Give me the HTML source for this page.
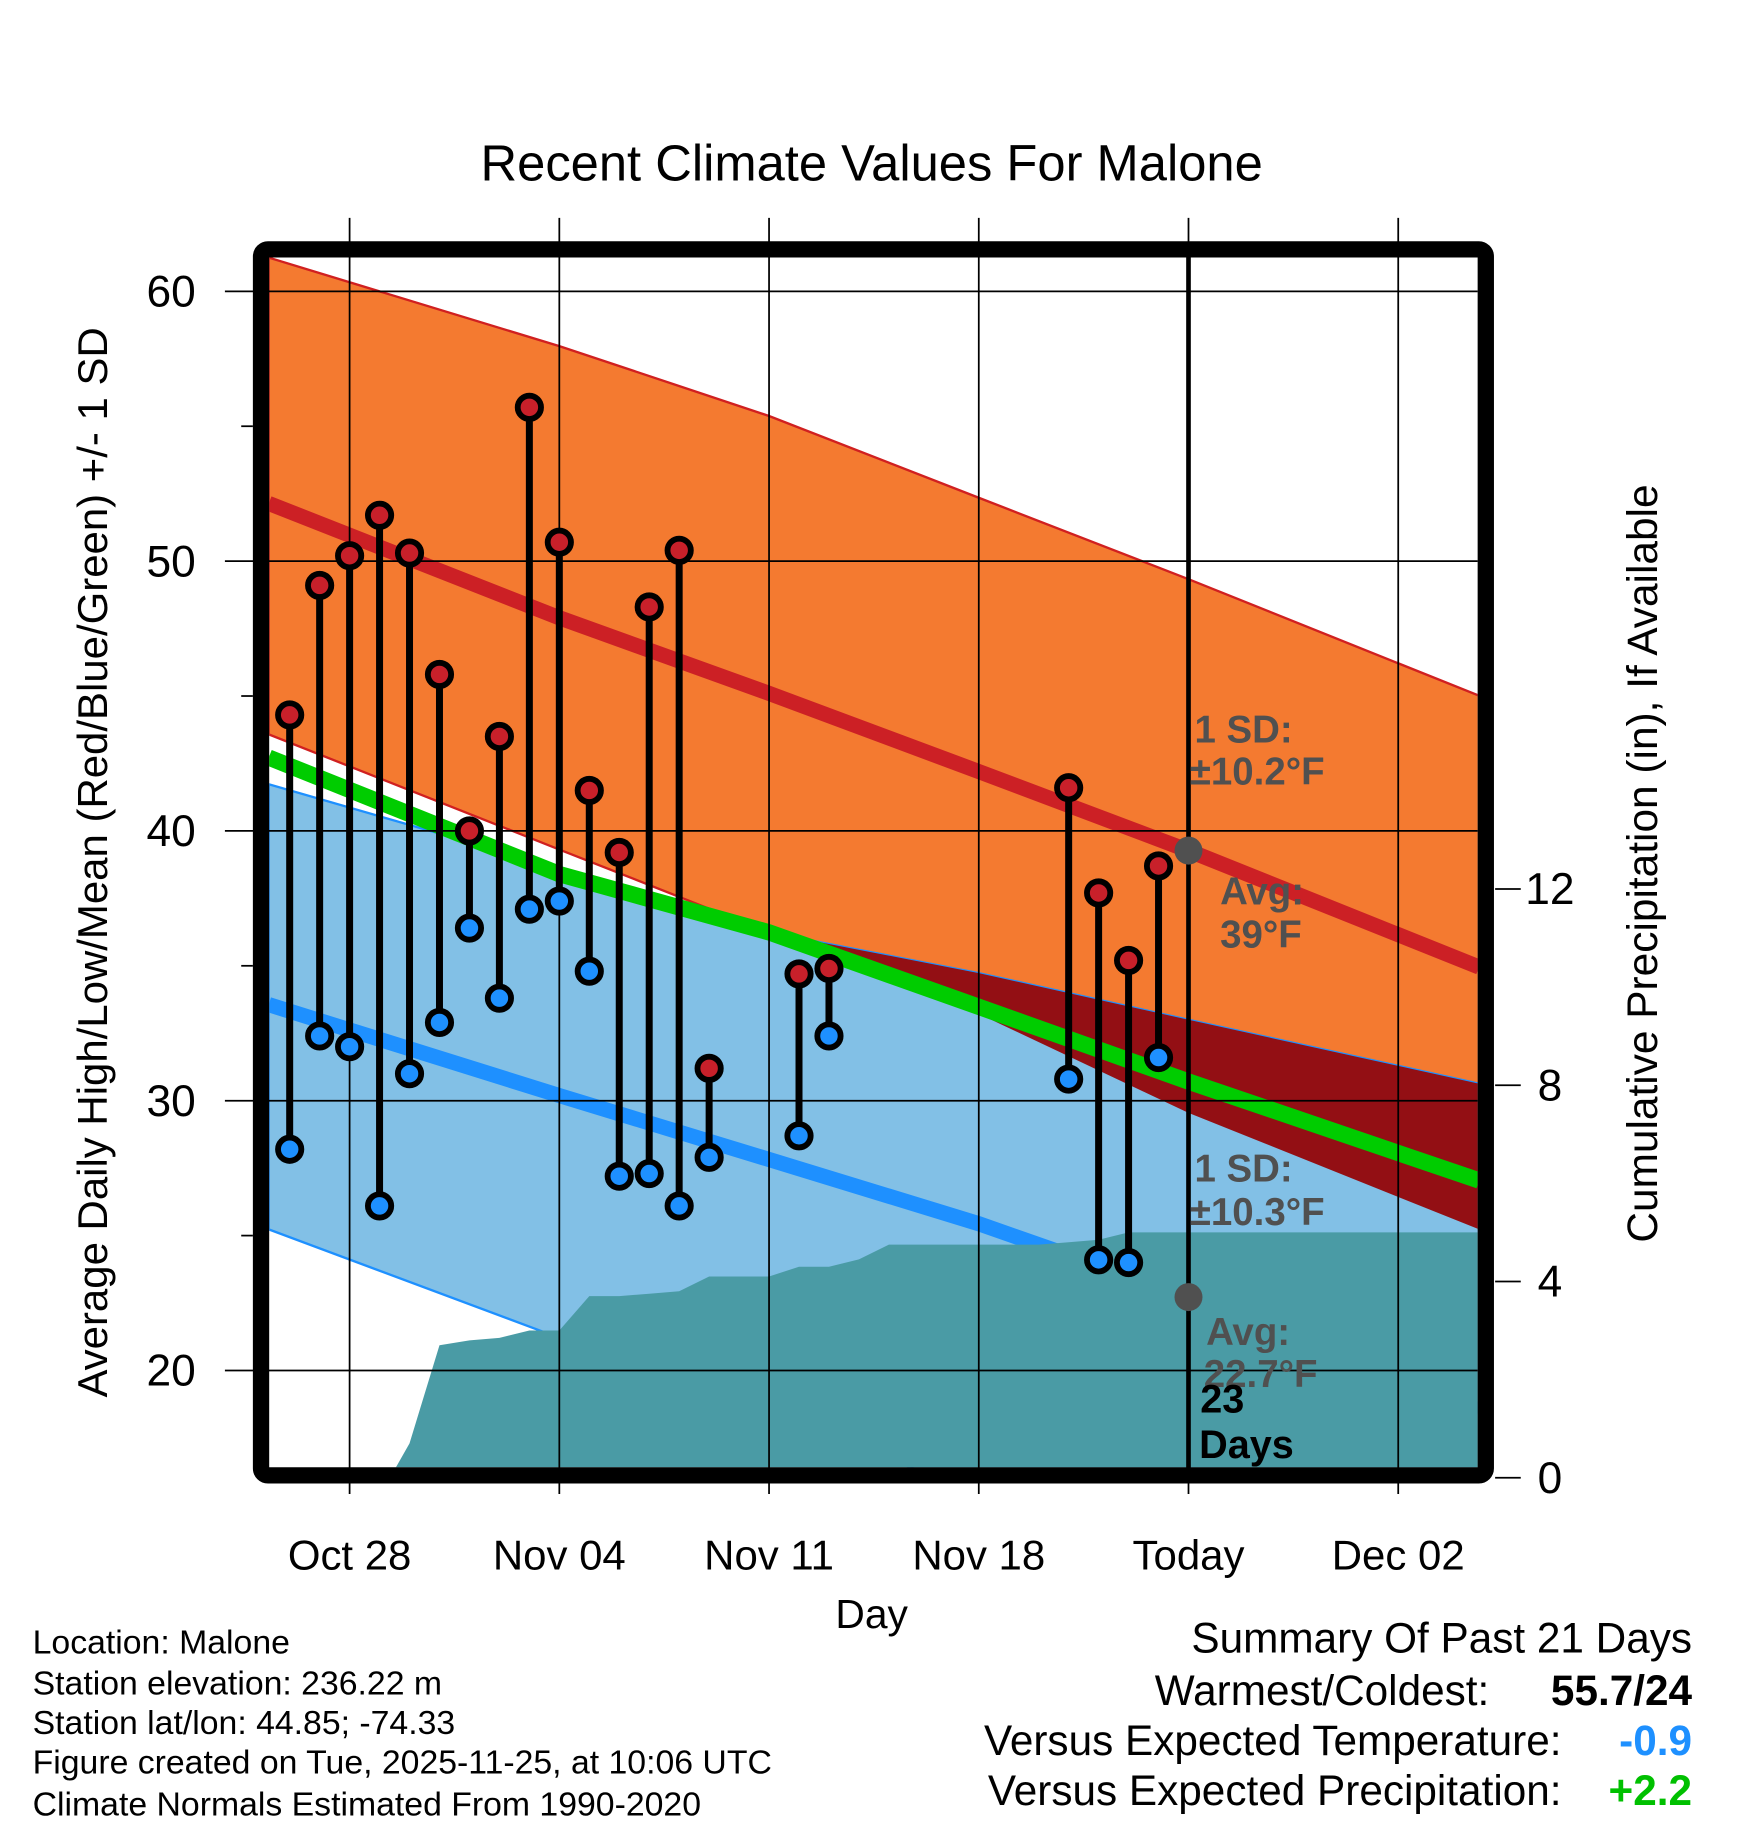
<!DOCTYPE html>
<html><head><meta charset="utf-8"><style>
html,body{margin:0;padding:0;background:#fff;}
svg{display:block;font-family:"Liberation Sans",Arial,sans-serif;}
</style></head><body>
<svg id="chart" width="1748" height="1828" viewBox="0 0 1500 1568.6" preserveAspectRatio="none" xmlns="http://www.w3.org/2000/svg">
<defs><clipPath id="plotclip"><rect x="231" y="221" width="1037" height="1038"/></clipPath></defs>
<g id="plot" clip-path="url(#plotclip)"></g>
<g id="axes"></g>
</svg>
<script>
// ---- data ----
const obsDays   = [-2,-1,0,1,2,3,4,5,6,7,8,9,10,11,12,15,16,24,25,26,27];
const highTemps = [44.3,49.1,50.2,51.7,50.3,45.8,40.0,43.5,55.7,50.7,41.5,39.2,48.3,50.4,31.2,34.7,34.9,41.6,37.7,35.2,38.7];
const lowTemps  = [28.2,32.4,32.0,26.1,31.0,32.9,36.4,33.8,37.1,37.4,34.8,27.2,27.3,26.1,27.9,28.7,32.4,30.8,24.1,24.0,31.6];
const normDays  = [-2.7,7,14,21,28,37.7];
const highUpper = [61.25,57.97,55.38,52.35,49.33,45.01];
const highMean  = [52.14,47.90,45.1,42.2,39.27,34.95];
const highLower = [43.58,39.31,36.24,33.22,29.55,25.23];
const lowUpper  = [41.73,38.62,36.24,34.73,33.0,30.63];
const lowMean   = [33.56,30.19,27.82,25.44,22.72,18.53];
const lowLower  = [25.23,21.21,18.3,15.5,12.7,8.6];
const avgMean   = [42.72,38.40,36.24,33.48,30.71,27.04];
const precipDays= [1.35,2,3,4,5,6,7,8,9,10,11,12,13,14,15,16,17,18,23,24,25,26,27,28,37.7];
const precipVals= [0,0.7,2.7,2.8,2.85,3.0,3.0,3.7,3.7,3.75,3.8,4.1,4.1,4.1,4.3,4.3,4.45,4.75,4.75,4.8,4.85,5.0,5.0,5.0,5.0];
const xTickDays = [0,7,14,21,28,35];
const xTickLabels=["Oct 28","Nov 04","Nov 11","Nov 18","Today","Dec 02"];
const yTicks    = [20,30,40,50,60];
const yMinor    = [25,35,45,55];
const pTicks    = [0,4,8,12];

// ---- axes fns ----
const X = d => 300 + d*25.71;
const Y = v => 250 + (60-v)*23.15;
const P = p => 1268 - p*42.1;
const NS="http://www.w3.org/2000/svg";
function mk(tag, attrs, parent, text){
  const e=document.createElementNS(NS,tag);
  for(const k in attrs) e.setAttribute(k,attrs[k]);
  if(text!==undefined) e.textContent=text;
  parent.appendChild(e); return e;
}
const plot=document.getElementById('plot'), axes=document.getElementById('axes');
const pts=(ds,vs)=>ds.map((d,i)=>X(d)+','+Y(vs[i]));
const line=(ds,vs)=>pts(ds,vs).join(' ');

let hiPoly=pts(normDays,highUpper).concat(pts(normDays,highLower).reverse()).join(' ');
let loPoly=pts(normDays,lowUpper).concat(pts(normDays,lowLower).reverse()).join(' ');
let e=mk('polygon',{points:hiPoly,fill:'#F47A30',stroke:'#D02020','stroke-width':2},plot);


e=mk('polygon',{points:loPoly,fill:'#82C0E6',stroke:'#1E90FF','stroke-width':2},plot);


const cp=mk('clipPath',{id:'bandclip'},document.querySelector('defs'));
mk('polygon',{points:loPoly},cp);
e=mk('polygon',{points:hiPoly,fill:'#930F14','clip-path':'url(#bandclip)'},plot);


e=mk('polyline',{points:line(normDays,highMean),fill:'none',stroke:'#CC2025','stroke-width':13},plot);


e=mk('polyline',{points:line(normDays,lowMean),fill:'none',stroke:'#1E90FF','stroke-width':13},plot);


e=mk('polyline',{points:line(normDays,avgMean),fill:'none',stroke:'#00CC00','stroke-width':14},plot);


let pp=precipDays.map((d,i)=>X(d)+','+P(precipVals[i]));
pp.push(X(37.7)+','+P(0)); pp.push(X(precipDays[0])+','+P(0));
e=mk('polygon',{points:pp.join(' '),fill:'#4A9BA5'},plot);



xTickDays.forEach((d,i)=>{
  const g=mk('line',{x1:X(d),x2:X(d),y1:187,y2:1282,stroke:'#000','stroke-width':1.5},axes);
  
  
  const t=mk('text',{x:X(d),y:1347,'font-size':36,'text-anchor':'middle'},axes,xTickLabels[i]);
  
  
});
yTicks.forEach(v=>{
  const g=mk('line',{x1:193,x2:1268,y1:Y(v),y2:Y(v),stroke:'#000','stroke-width':1.5},axes);
  
  
  const t=mk('text',{x:168,y:Y(v)+13,'font-size':38,'text-anchor':'end'},axes,String(v));
  
  
});
yMinor.forEach(v=>{
  const g=mk('line',{x1:207,x2:217,y1:Y(v),y2:Y(v),stroke:'#000','stroke-width':1.5},axes);
  
  
});
pTicks.forEach(p=>{
  const g=mk('line',{x1:1283,x2:1305,y1:P(p),y2:P(p),stroke:'#000','stroke-width':1.5},axes);
  
  
  const t=mk('text',{x:1330,y:P(p)+13,'font-size':38,'text-anchor':'middle'},axes,String(p));
  
  
});

obsDays.forEach((d,i)=>{
  const s=mk('line',{x1:X(d),x2:X(d),y1:Y(highTemps[i]),y2:Y(lowTemps[i]),stroke:'#000','stroke-width':6},axes);
  
  
});
obsDays.forEach((d,i)=>{
  const h=mk('circle',{cx:X(d),cy:Y(highTemps[i]),r:10,fill:'#C8202A',stroke:'#000','stroke-width':5},axes);
  
  
  const l=mk('circle',{cx:X(d),cy:Y(lowTemps[i]),r:10,fill:'#1E90FF',stroke:'#000','stroke-width':5},axes);
  
  
});
e=mk('line',{x1:X(28),x2:X(28),y1:221,y2:1262,stroke:'#000','stroke-width':4},axes);


e=mk('circle',{cx:X(28),cy:Y(highMean[4]),r:12,fill:'#505050'},axes);


e=mk('circle',{cx:X(28),cy:Y(lowMean[4]),r:12,fill:'#505050'},axes);


</script>
<svg style="position:absolute;left:0;top:0" width="1748" height="1828" viewBox="0 0 1500 1568.6" preserveAspectRatio="none" xmlns="http://www.w3.org/2000/svg" font-family="Liberation Sans, Arial, sans-serif">
<rect x="224" y="214" width="1051" height="1052" rx="6" fill="none" stroke="#000" stroke-width="14"/>
<text x="748" y="155" font-size="43.5" text-anchor="middle">Recent Climate Values For Malone</text>
<text x="748" y="1397" font-size="35" text-anchor="middle">Day</text>
<text transform="translate(92,740) rotate(-90)" font-size="36" text-anchor="middle">Average Daily High/Low/Mean (Red/Blue/Green) +/- 1 SD</text>
<text transform="translate(1422,741) rotate(-90)" font-size="36.4" text-anchor="middle">Cumulative Precipitation (in), If Available</text>
<g font-weight="bold" font-size="33" fill="#505050">
<text x="1025" y="637">1 SD:</text>
<text x="1021" y="673">±10.2°F</text>
<text x="1047" y="776">Avg:</text>
<text x="1047" y="813">39°F</text>
<text x="1025" y="1014">1 SD:</text>
<text x="1021" y="1051">±10.3°F</text>
<text x="1035" y="1154">Avg:</text>
<text x="1033" y="1190">22.7°F</text>
</g>
<g font-weight="bold" font-size="34" fill="#000">
<text x="1030" y="1212">23</text>
<text x="1029" y="1251">Days</text>
</g>
<g font-size="29" fill="#000">
<text x="28" y="1419">Location: Malone</text>
<text x="28" y="1454">Station elevation: 236.22 m</text>
<text x="28" y="1488">Station lat/lon: 44.85; -74.33</text>
<text x="28" y="1522">Figure created on Tue, 2025-11-25, at 10:06 UTC</text>
<text x="28" y="1558">Climate Normals Estimated From 1990-2020</text>
</g>
<g font-size="36.3" fill="#000" text-anchor="end">
<text x="1452" y="1418">Summary Of Past 21 Days</text>
<text x="1278" y="1463">Warmest/Coldest:</text>
<text x="1452" y="1463" font-weight="bold">55.7/24</text>
<text x="1340" y="1506">Versus Expected Temperature:</text>
<text x="1452" y="1506" font-weight="bold" fill="#1E90FF">-0.9</text>
<text x="1340" y="1549">Versus Expected Precipitation:</text>
<text x="1452" y="1549" font-weight="bold" fill="#00C000">+2.2</text>
</g>
</svg>
</body></html>
